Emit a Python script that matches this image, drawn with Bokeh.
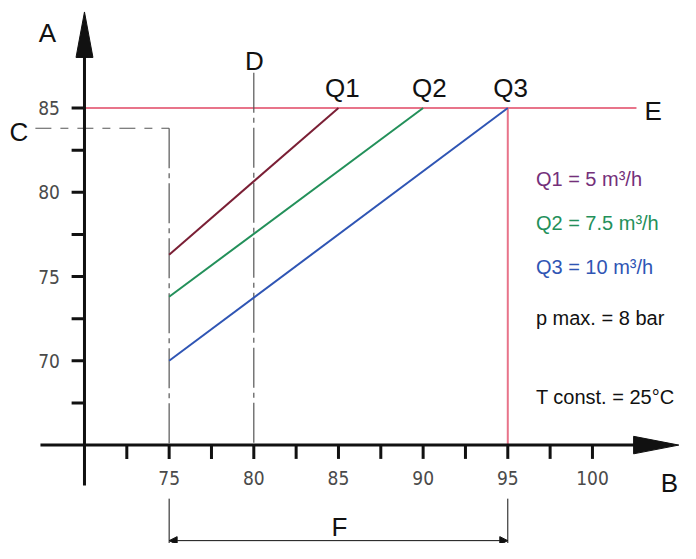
from bokeh.plotting import figure
from bokeh.models import Range1d, Arrow, NormalHead
from bokeh.embed import file_html
from bokeh.resources import INLINE
from bokeh.core.properties import value

# ---------------- data ----------------
flow_names = ["Q1", "Q2", "Q3"]
flow_legend = ["Q1 = 5 m³/h", "Q2 = 7.5 m³/h", "Q3 = 10 m³/h"]
flow_x = [[75, 85], [75, 90], [75, 95]]
flow_y = [[76.3, 85], [73.8, 85], [70.0, 85]]
flow_colors = ["#7a1f35", "#23905a", "#2f55b4"]
legend_colors = ["#74307a", "#23905a", "#2f55b4"]

x_ticks = [72.5, 75, 77.5, 80, 82.5, 85, 87.5, 90, 92.5, 95, 97.5, 100]
x_label_pos = [75, 80, 85, 90, 95, 100]
x_tick_labels = ["75", "80", "85", "90", "95", "100"]
y_ticks = [67.5, 70, 72.5, 75, 77.5, 80, 82.5, 85]
y_label_pos = [70, 75, 80, 85]
y_tick_labels = ["70", "75", "80", "85"]

origin_x = 70
origin_y = 65
limit_y = 85      # line E
limit_x = 95      # end of F
c_level = 83.8    # line C
c_x = 75
d_x = 80
f_start = 75
f_end = 95
notes = ["p max. = 8 bar", "T const. = 25°C"]

# ---------------- figure ----------------
p = figure(width=680, height=543, x_range=Range1d(65.04, 105.2),
           y_range=Range1d(59.16, 91.38), min_border=0,
           x_axis_location=None, y_axis_location=None,
           toolbar_location=None, output_backend="svg")
p.grid.visible = False
p.outline_line_color = None
p.background_fill_color = "white"

axis_col = "#111111"
gray = "#555555"
red = "#e8748a"
big_font = value("Liberation Sans")
tick_font = value("DejaVu Sans Condensed, Liberation Sans")

# limit lines (E and 95)
p.line([origin_x, 102.6], [limit_y, limit_y], line_color=red, line_width=2)
p.line([limit_x, limit_x], [origin_y, limit_y], line_color=red, line_width=2)

# C line
p.line([67.1, c_x], [c_level, c_level], line_color=gray, line_width=1.2,
       line_dash="16 9 8 9")
p.line([c_x, c_x], [c_level, origin_y], line_color=gray, line_width=1.2,
       line_dash="40 5 5 5")
# D line
p.line([d_x, d_x], [87.1, origin_y], line_color=gray, line_width=1.2,
       line_dash="40 5 5 5")

# flow lines
for xs, ys, c in zip(flow_x, flow_y, flow_colors):
    p.line(xs, ys, line_color=c, line_width=2)

# axes
p.segment([origin_x], [62.6], [origin_x], [88.3], line_color=axis_col, line_width=3)
p.patch([origin_x - 0.5, origin_x, origin_x + 0.5], [88.0, 90.7, 88.0],
        fill_color=axis_col, line_color=axis_col)
p.segment([67.4], [origin_y], [102.6], [origin_y], line_color=axis_col, line_width=3)
p.patch([102.43, 105.1, 102.43], [origin_y - 0.52, origin_y, origin_y + 0.52],
        fill_color=axis_col, line_color=axis_col)

# ticks
p.segment(x0=x_ticks, y0=[origin_y] * len(x_ticks), x1=x_ticks,
          y1=[origin_y - 0.82] * len(x_ticks), line_color=axis_col, line_width=3)
p.segment(x0=[origin_x - 0.76] * len(y_ticks), y0=y_ticks,
          x1=[origin_x] * len(y_ticks), y1=y_ticks, line_color=axis_col, line_width=3)

p.text(x=x_label_pos, y=[63.03] * len(x_label_pos), text=x_tick_labels,
       text_align="center", text_baseline="middle", text_font=tick_font,
       text_font_size="19px", text_color="#4a4a4a")
p.text(x=[68.55] * len(y_label_pos), y=y_label_pos, text=y_tick_labels,
       text_align="right", text_baseline="middle", text_font=tick_font,
       text_font_size="19px", text_color="#4a4a4a")

# F dimension
p.segment(x0=[f_start, f_end], y0=[61.82, 61.82], x1=[f_start, f_end], y1=[59.16, 59.16],
          line_color=axis_col, line_width=1)
p.add_layout(Arrow(x_start=f_start, y_start=59.33, x_end=f_end, y_end=59.33,
                   line_color=axis_col, line_width=1,
                   start=NormalHead(size=8, fill_color=axis_col, line_color=axis_col),
                   end=NormalHead(size=8, fill_color=axis_col, line_color=axis_col)))

# letter labels
letters = ["A", "B", "C", "D", "E", "F"]
lx = [67.81, 104.55, 66.13, 80.04, 103.58, 85.06]
ly = [89.48, 62.74, 83.6, 87.81, 84.81, 60.14]
p.text(x=lx, y=ly, text=letters, text_align="center", text_baseline="middle",
       text_font=big_font, text_font_size="26px", text_color="#111111")
p.text(x=[85.23, 90.37, 95.16], y=[86.2] * 3, text=flow_names, text_align="center",
       text_baseline="middle", text_font=big_font, text_font_size="26px",
       text_color="#111111")

# legend texts
p.text(x=[96.66] * 3, y=[80.78, 78.18, 75.59], text=flow_legend,
       text_color=legend_colors, text_align="left", text_baseline="middle",
       text_font=big_font, text_font_size="20px")
p.text(x=[96.66] * 2, y=[72.54, 67.87], text=notes, text_color="#111111",
       text_align="left", text_baseline="middle", text_font=big_font,
       text_font_size="20px")

open("out.html", "w").write(file_html(p, INLINE))
